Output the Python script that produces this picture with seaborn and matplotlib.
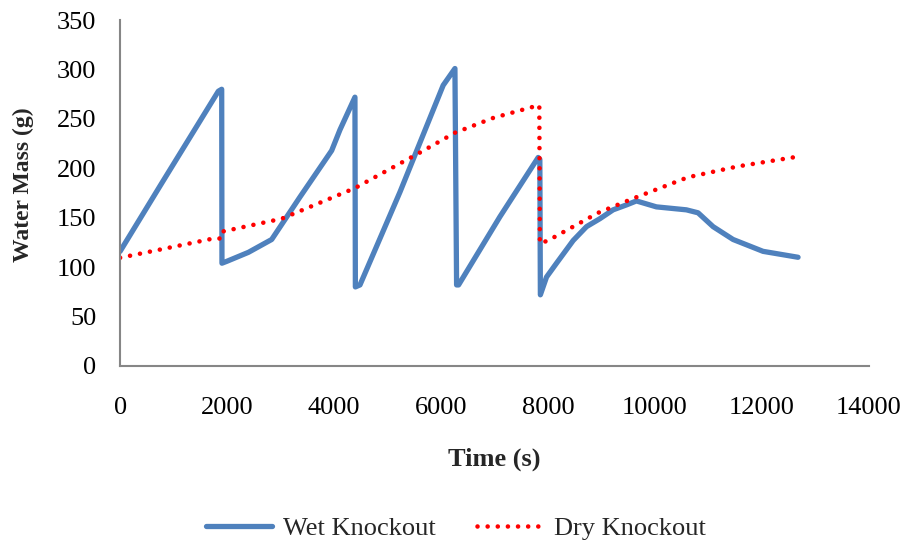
import matplotlib
matplotlib.use("Agg")
import matplotlib.pyplot as plt
import seaborn as sns
import pandas as pd

# ---- data ----
wet_time = [0, 779, 1837, 1900, 1905, 2000, 2400, 2835, 3364, 3957, 4112, 4392, 4400,
            4486, 5234, 6042, 6262, 6293, 6330, 7103, 7819, 7850, 7860, 7975, 8162,
            8474, 8723, 8972, 9220, 9471, 9656, 10030, 10591, 10809, 11090, 11464,
            12024, 12679]
wet_mass = [116, 185, 278, 280, 104, 106, 115, 128, 171, 218, 239, 272, 80,
            82, 176, 284, 301, 82, 82, 151, 211, 209, 72, 90, 104,
            127, 141, 149, 158, 163, 167, 161, 158, 155, 141, 128,
            116, 110]

dry_time = [0, 766, 1745, 1890, 1912, 3021, 4392, 5576, 6262, 6978, 7840, 7850,
            8006, 8941, 9595, 10622, 11557, 12648]
dry_mass = [109.5, 118, 129, 129, 136, 149, 180, 215, 236, 251, 264, 124,
            127, 155, 169.5, 191, 202, 211.6]

x_ticks = [0, 2000, 4000, 6000, 8000, 10000, 12000, 14000]
y_ticks = [0, 50, 100, 150, 200, 250, 300, 350]

wet = pd.DataFrame({"t": wet_time, "m": wet_mass})
dry = pd.DataFrame({"t": dry_time, "m": dry_mass})

sns.set_theme(style="white")
plt.rcParams["font.family"] = ["Liberation Serif", "DejaVu Serif"]

FS = 19

fig = plt.figure(figsize=(9.03, 5.43), dpi=100)
ax = fig.add_axes([0.133, 0.326, 0.829, 0.637])

sns.lineplot(data=wet, x="t", y="m", ax=ax, sort=False, estimator=None,
             color="#4F81BD", linewidth=3.8, label="Wet Knockout",
             solid_capstyle="round", solid_joinstyle="round")
sns.lineplot(data=dry, x="t", y="m", ax=ax, sort=False, estimator=None,
             color="#FF0000", linewidth=3.3, label="Dry Knockout")
ax.lines[1].set_dashes((0.01, 2.2))
ax.lines[1].set_dash_capstyle("round")

ax.set_xlim(0, 14000)
ax.set_ylim(0, 350)
ax.set_xticks(x_ticks)
ax.set_yticks(y_ticks)
ax.set_xticklabels([str(v) for v in x_ticks])
ax.set_yticklabels([str(v) for v in y_ticks])

for s in ["top", "right"]:
    ax.spines[s].set_visible(False)
for s in ["left", "bottom"]:
    ax.spines[s].set_color("#868686")
    ax.spines[s].set_linewidth(1.5)
ax.tick_params(axis="both", direction="in", length=5, width=1.5, color="#868686",
               labelsize=FS, labelcolor="black")
ax.tick_params(axis="y", pad=17)
ax.tick_params(axis="x", pad=22)

ax.set_xlabel("Time (s)", fontsize=FS, fontweight="bold", labelpad=21)
ax.set_ylabel("Water Mass (g)", fontsize=17, fontweight="bold")
ax.yaxis.set_label_coords(-0.115, 0.523)

ax.get_legend().remove()
handles, labels = ax.get_legend_handles_labels()
fig.legend(handles, labels, loc="center", bbox_to_anchor=(0.505, 0.027), ncol=2,
           frameon=False, fontsize=FS, handlelength=2.5, handletextpad=0.42,
           columnspacing=1.55)

fig.savefig("out.png", dpi=100)
